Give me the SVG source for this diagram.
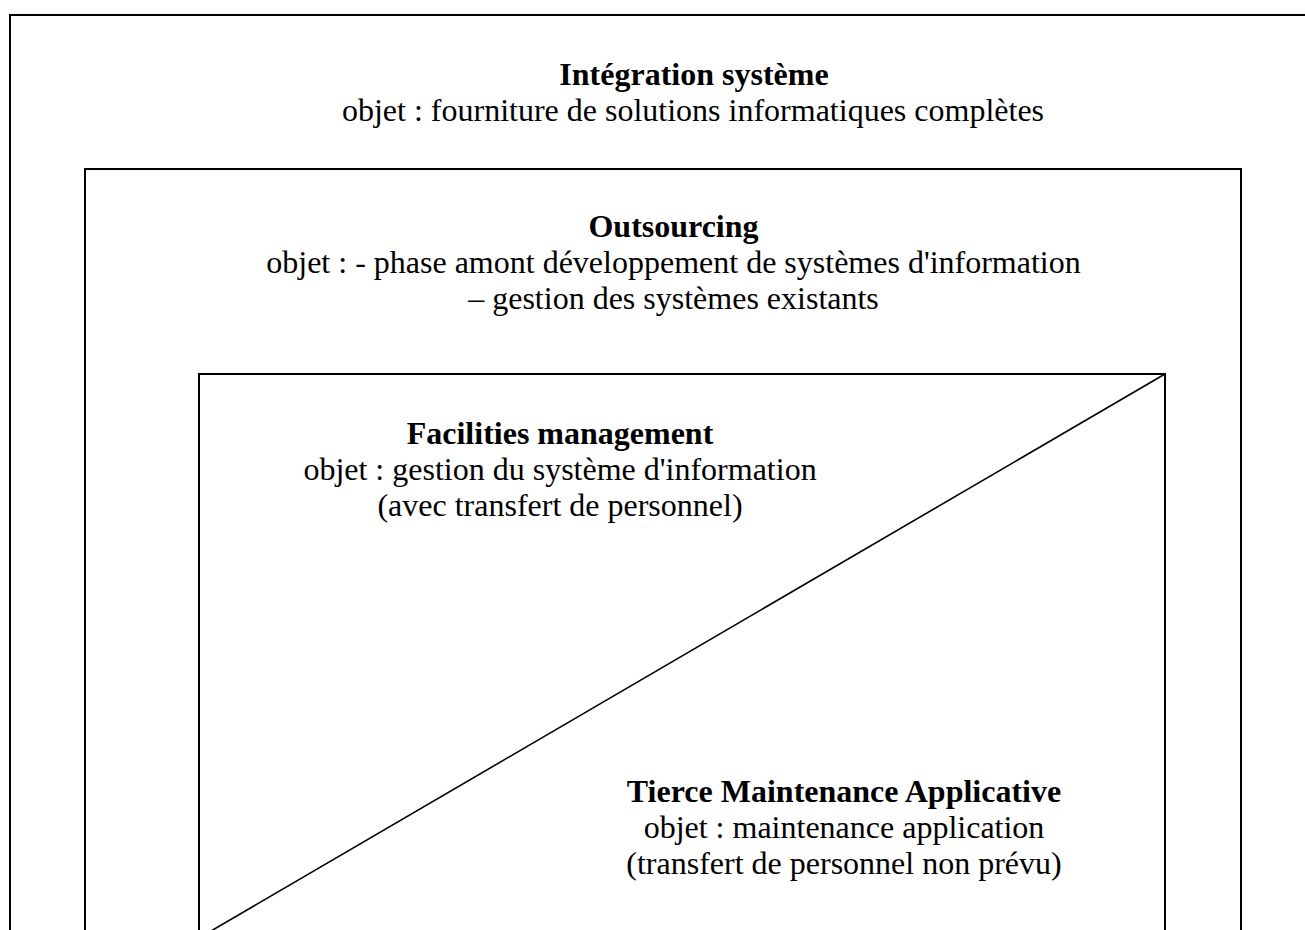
<svg xmlns="http://www.w3.org/2000/svg" width="1305" height="930" viewBox="0 0 1305 930">
<style>
.box{fill:none;stroke:#000;stroke-width:2}
.diag{fill:none;stroke:#000;stroke-width:1.6}
text{font-family:"Liberation Serif","Times New Roman",serif;font-size:32px;fill:#000;text-anchor:middle}
.t{font-weight:bold}
</style>
<rect width="1305" height="930" fill="#fff"/>
<g id="integration">
<rect class="box" x="10" y="15" width="1380" height="960"/>
<text class="t" x="694" y="85">Intégration système</text>
<text x="693" y="121">objet : fourniture de solutions informatiques complètes</text>
</g>
<g id="outsourcing">
<rect class="box" x="85" y="169" width="1156" height="800"/>
<text class="t" x="673.5" y="237">Outsourcing</text>
<text x="673.5" y="273">objet : - phase amont développement de systèmes d'information</text>
<text x="673.5" y="309">– gestion des systèmes existants</text>
</g>
<g id="facilities">
<rect class="box" x="199" y="374" width="966" height="564"/>
<text class="t" x="560" y="444">Facilities management</text>
<text x="560" y="480">objet : gestion du système d'information</text>
<text x="560" y="516">(avec transfert de personnel)</text>
</g>
<g id="tma">
<text class="t" x="844" y="802">Tierce Maintenance Applicative</text>
<text x="844" y="838">objet : maintenance application</text>
<text x="844" y="874">(transfert de personnel non prévu)</text>
</g>
<g id="connectors">
<line class="diag" x1="1165" y1="374" x2="199" y2="938"/>
</g>
</svg>
